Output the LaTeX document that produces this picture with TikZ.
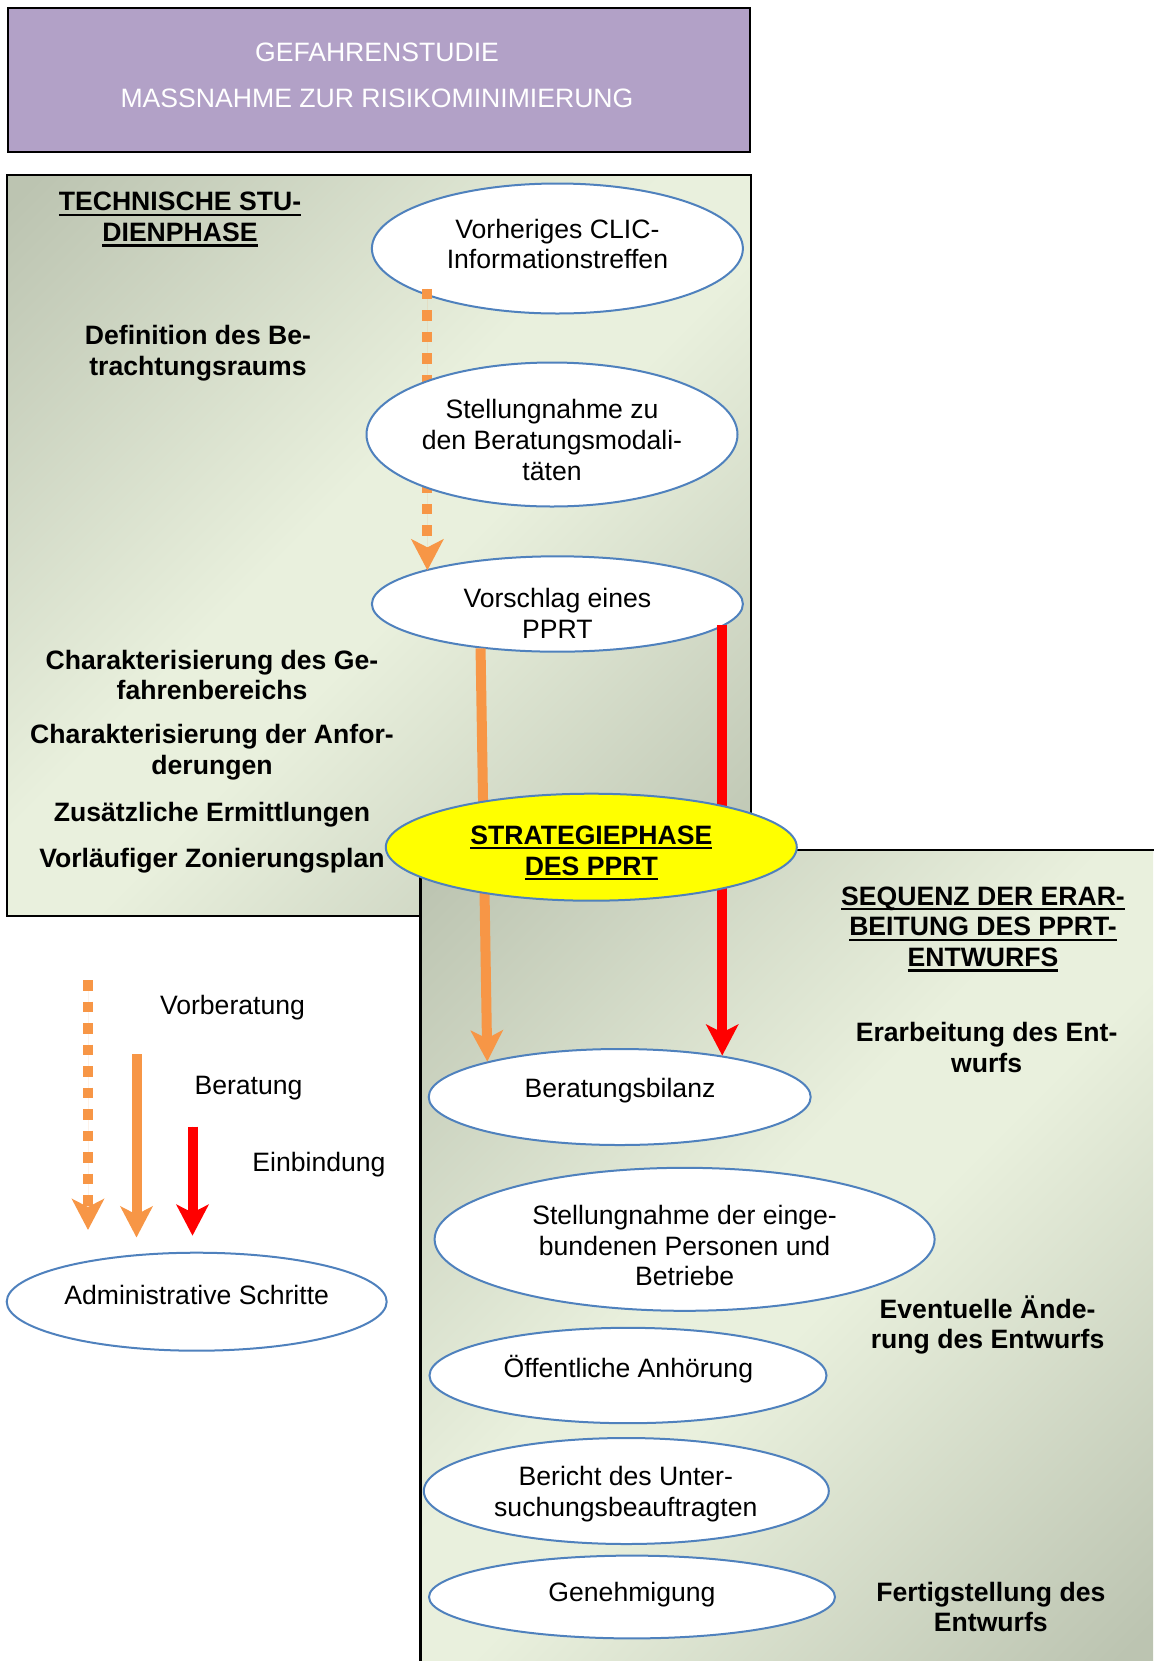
\documentclass[tikz,border=0pt]{standalone}
\usepackage{fontspec}
\setmainfont{Liberation Sans}
\usetikzlibrary{shapes.geometric,arrows.meta}

\definecolor{boxpurple}{HTML}{B2A1C7}
\definecolor{paneldark}{HTML}{BCC4B1}
\definecolor{panellight}{HTML}{E9F0DD}
\definecolor{ellblue}{HTML}{4F81BD}
\definecolor{floworange}{HTML}{F79646}
\definecolor{flowred}{HTML}{FF0000}
\definecolor{phaseyellow}{HTML}{FFFF00}

% diagonal dark-light-dark background of the two phase panels
\pgfdeclarehorizontalshading{panelshade}{100bp}{%
  color(0bp)=(paneldark); color(16bp)=(paneldark);
  color(46bp)=(panellight); color(54bp)=(panellight);
  color(84bp)=(paneldark); color(100bp)=(paneldark)}

% underline with a rule of fixed thickness
\newcommand{\ulined}[1]{\setbox0\hbox{#1}\rlap{\rule[-2.4pt]{\wd0}{1.1pt}}\box0}

\begin{document}
\begin{tikzpicture}[x=0.5pt,y=-0.5pt,
  every node/.style={font=\fontsize{13.3}{15.4}\selectfont, inner sep=0pt},
  txt/.style={align=center},
  boldtxt/.style={align=center, font=\fontsize{13.3}{15.4}\selectfont\bfseries},
  oval/.style={ellipse, draw=ellblue, line width=1pt, fill=white, inner sep=0pt},
  panel/.style={shading=panelshade, shading angle=-45},
  frame/.style={draw=black, line width=1.1pt},
  flowline/.style={line width=5pt, -{Stealth[length=15.5pt,width=16pt,inset=4pt]}},
  dashflow/.style={flowline, draw=floworange, fill=floworange, dash pattern=on 5.25pt off 5.5pt},
  solidflow/.style={flowline, draw=floworange, fill=floworange},
  redflow/.style={flowline, draw=flowred, fill=flowred},
]
\useasboundingbox (0,0) rectangle (1153,1661);

% title box
\node[draw=black, line width=1.2pt, fill=boxpurple, minimum width=371.25pt, minimum height=71.75pt, anchor=north west] (title) at (6.5,7) {};
\node[text=white] (titleA) at (377,52.5) {GEFAHRENSTUDIE};
\node[text=white] (titleB) at (377,98) {MASSNAHME ZUR RISIKOMINIMIERUNG};

% technical study phase panel
\path[panel] (7,175) rectangle (751,916);
\draw[frame] (7,175) rectangle (751,916);

% drafting sequence panel (runs past the page edge)
\path[panel] (420.5,850) rectangle (1153,1661);
\draw[frame] (1160,850) -- (420.5,850) -- (420.5,1670);

% panel headings and step labels
\node[boldtxt] (techhead) at (180,219.5) {\ulined{TECHNISCHE STU-}\\\ulined{DIENPHASE}};
\node[boldtxt] (defin) at (198,353.5) {Definition des Be-\\trachtungsraums};
\node[boldtxt] (charA) at (212,675) {Charakterisierung des Ge-\\fahrenbereichs};
\node[boldtxt] (charB) at (212,752) {Charakterisierung der Anfor-\\derungen};
\node[boldtxt] (zusatz) at (212,814.7) {Zusätzliche Ermittlungen};
\node[boldtxt] (zoning) at (212,861) {Vorläufiger Zonierungsplan};

\node[boldtxt] (seqhead) at (983,929) {\ulined{SEQUENZ DER ERAR-}\\\ulined{BEITUNG DES PPRT-}\\\ulined{ENTWURFS}};
\node[boldtxt] (erarb) at (986.6,1047.5) {Erarbeitung des Ent-\\wurfs};
\node[boldtxt] (aend) at (987.6,1325) {Eventuelle Ände-\\rung des Entwurfs};
\node[boldtxt] (fertig) at (990.8,1607) {Fertigstellung des\\Entwurfs};

% first steps
\node[oval, minimum width=185.5pt, minimum height=65pt] (e1) at (557.4,248.5) {};
\node[txt] (e1t) at (557.4,244) {Vorheriges CLIC-\\Informationstreffen};

\node[oval, minimum width=185.5pt, minimum height=47.7pt] (e3) at (557.4,604) {};
\node[txt] (e3t) at (557.4,613.5) {Vorschlag eines\\PPRT};

\draw[dashflow] ([yshift=3.5pt]e1.200) -- (e1.200 |- e3.166);

\node[oval, minimum width=185.5pt, minimum height=72pt] (e2) at (552,434.5) {};
\node[txt] (e2t) at (552,440) {Stellungnahme zu\\den Beratungsmodali-\\täten};

\node[oval, minimum width=191pt, minimum height=48pt] (e5) at (619.7,1097) {};
\node[txt] (e5t) at (620,1091) {Beratungsbilanz};

% consultation and involvement flows through the strategy phase
\draw[solidflow] (e3.210) -- (e5.165.5);
\draw[redflow] (e5.22 |- e3.-7) -- (e5.22);

\node[oval, fill=phaseyellow, minimum width=205.5pt, minimum height=53.5pt] (e4) at (591.3,847.2) {};
\node[boldtxt] (e4t) at (591.3,853) {\ulined{STRATEGIEPHASE}\\\ulined{DES PPRT}};

% drafting steps
\node[oval, minimum width=250pt, minimum height=71.5pt] (e6) at (684.6,1239.3) {};
\node[txt] (e6t) at (684.6,1245.5) {Stellungnahme der einge-\\bundenen Personen und\\Betriebe};

\node[oval, minimum width=198.5pt, minimum height=47.7pt] (e7) at (628,1375.5) {};
\node[txt] (e7t) at (628.4,1369) {Öffentliche Anhörung};

\node[oval, minimum width=202.5pt, minimum height=53pt] (e8) at (626.3,1491) {};
\node[txt] (e8t) at (625.8,1494.5) {Bericht des Unter-\\suchungsbeauftragten};

\node[oval, minimum width=203pt, minimum height=41.4pt] (e9) at (632,1597) {};
\node[txt] (e9t) at (632,1594.5) {Genehmigung};

% legend
\coordinate (lgA1) at (88,980);
\coordinate (lgA2) at (88,1230);
\coordinate (lgB1) at (136.5,1054);
\coordinate (lgB2) at (136.5,1237.5);
\coordinate (lgC1) at (192.5,1126.5);
\coordinate (lgC2) at (192.5,1235.7);
\draw[dashflow] (lgA1) -- (lgA2);
\draw[solidflow] (lgB1) -- (lgB2);
\draw[redflow] (lgC1) -- (lgC2);
\node[txt] (lgAt) at (232.5,1008) {Vorberatung};
\node[txt] (lgBt) at (248.5,1088) {Beratung};
\node[txt] (lgCt) at (319,1164.5) {Einbindung};

\node[oval, minimum width=190pt, minimum height=49pt] (e10) at (196.7,1301.7) {};
\node[txt] (e10t) at (196.7,1294.5) {Administrative Schritte};
\end{tikzpicture}
\end{document}
